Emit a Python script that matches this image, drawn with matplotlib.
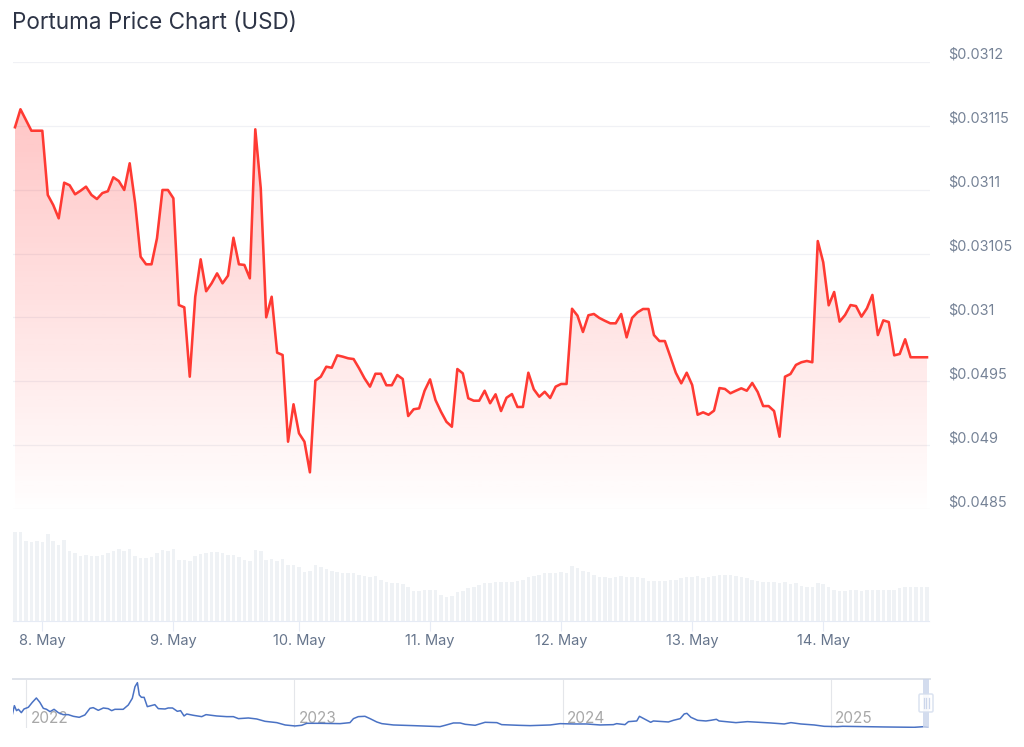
import matplotlib
matplotlib.use("Agg")
import matplotlib.pyplot as plt
import numpy as np
from matplotlib.patches import FancyBboxPatch, Rectangle

plt.rcParams['font.family'] = ['Inter', 'DejaVu Sans']

# hourly price, in units of 1e-5 USD
price = [3114.89, 3116.30, 3115.46, 3114.62, 3114.62, 3114.62, 3109.59, 3108.80, 3107.76, 3110.55,
         3110.35, 3109.64, 3109.92, 3110.24, 3109.59, 3109.27, 3109.74, 3109.88, 3110.97, 3110.68,
         3109.98, 3112.07, 3108.94, 3104.75, 3104.16, 3104.16, 3106.20, 3109.98, 3109.98, 3109.33,
         3100.97, 3100.79, 3095.36, 3101.62, 3104.55, 3102.05, 3102.67, 3103.45, 3102.67, 3103.27,
         3106.24, 3104.16, 3104.11, 3103.06, 3114.73, 3110.11, 3100.01, 3101.62, 3097.24, 3097.06,
         3090.27, 3093.20, 3090.93, 3090.27, 3087.87, 3095.05, 3095.36, 3096.14, 3096.06, 3097.03,
         3096.93, 3096.80, 3096.74, 3096.02, 3095.23, 3094.58, 3095.59, 3095.59, 3094.69, 3094.69,
         3095.49, 3095.18, 3092.28, 3092.81, 3092.88, 3094.26, 3095.15, 3093.53, 3092.62, 3091.83,
         3091.44, 3095.96, 3095.62, 3093.67, 3093.48, 3093.48, 3094.26, 3093.28, 3093.98, 3092.67,
         3093.71, 3094.00, 3092.99, 3092.99, 3095.67, 3094.37, 3093.79, 3094.18, 3093.69, 3094.58,
         3094.79, 3094.79, 3100.68, 3100.14, 3098.86, 3100.17, 3100.27, 3099.96, 3099.74, 3099.54,
         3099.54, 3100.27, 3098.44, 3099.96, 3100.40, 3100.66, 3100.66, 3098.62, 3098.15, 3098.15,
         3096.93, 3095.67, 3094.84, 3095.67, 3094.71, 3092.38, 3092.57, 3092.38, 3092.70, 3094.47,
         3094.40, 3094.06, 3094.26, 3094.45, 3094.26, 3094.87, 3094.16, 3093.06, 3093.06, 3092.67,
         3090.66, 3095.36, 3095.57, 3096.28, 3096.49, 3096.59, 3096.49, 3105.98, 3104.32, 3100.95,
         3101.99, 3099.67, 3100.19, 3100.97, 3100.89, 3100.06, 3100.71, 3101.76, 3098.62, 3099.77,
         3099.64, 3097.03, 3097.14, 3098.29, 3096.88, 3096.88, 3096.88, 3096.88]

# volume, arbitrary units
volume = [265, 265, 240, 235, 239, 235, 260, 240, 228, 243, 208, 202, 195, 198, 195, 195, 198, 202, 208, 216,
          210, 216, 195, 187, 187, 190, 202, 213, 209, 216, 183, 183, 180, 195, 201, 202, 205, 205, 202, 198,
          198, 190, 183, 180, 213, 209, 183, 186, 180, 186, 168, 168, 160, 146, 150, 168, 160, 156, 150, 146,
          142, 142, 142, 138, 135, 131, 135, 123, 116, 112, 112, 109, 101, 90, 90, 93, 93, 93, 78, 71,
          75, 86, 90, 97, 101, 108, 112, 112, 116, 116, 116, 116, 120, 123, 131, 135, 138, 142, 142, 142,
          146, 142, 164, 157, 150, 146, 138, 131, 131, 127, 131, 135, 131, 131, 131, 127, 120, 120, 120, 120,
          123, 123, 127, 131, 131, 135, 127, 131, 135, 138, 138, 138, 135, 131, 127, 123, 120, 116, 116, 116,
          112, 116, 109, 112, 105, 101, 101, 112, 109, 101, 93, 90, 90, 93, 93, 90, 93, 93, 93, 93,
          93, 93, 97, 101, 101, 101, 101, 101]

tick_hours = [5, 29, 52, 76, 100, 124, 148]
tick_days = ['8. May', '9. May', '10. May', '11. May', '12. May', '13. May', '14. May']

y_ticks = [3120, 3115, 3110, 3105, 3100, 3095, 3090, 3085]
y_labels = ['$0.0312', '$0.03115', '$0.0311', '$0.03105', '$0.031', '$0.0495', '$0.049', '$0.0485']

# long range navigator
nav_years = [2021.948, 2021.955, 2021.963, 2021.970, 2021.981, 2021.991, 2022.007, 2022.022, 2022.037, 2022.050,
             2022.063, 2022.075, 2022.088, 2022.103, 2022.119, 2022.137, 2022.156, 2022.175, 2022.197, 2022.218,
             2022.237, 2022.249, 2022.268, 2022.287, 2022.305, 2022.318, 2022.330, 2022.361, 2022.380, 2022.395,
             2022.405, 2022.414, 2022.421, 2022.429, 2022.439, 2022.451, 2022.479, 2022.492, 2022.517, 2022.529,
             2022.545, 2022.563, 2022.575, 2022.588, 2022.598, 2022.623, 2022.654, 2022.670, 2022.710, 2022.747,
             2022.772, 2022.791, 2022.828, 2022.859, 2022.890, 2022.934, 2022.965, 2023.002, 2023.027, 2023.046,
             2023.095, 2023.170, 2023.207, 2023.220, 2023.238, 2023.263, 2023.282, 2023.307, 2023.326, 2023.369,
             2023.444, 2023.543, 2023.562, 2023.593, 2023.618, 2023.637, 2023.674, 2023.711, 2023.755, 2023.773,
             2023.836, 2023.879, 2023.954, 2023.991, 2024.041, 2024.090, 2024.140, 2024.190, 2024.202, 2024.233,
             2024.246, 2024.277, 2024.287, 2024.308, 2024.329, 2024.339, 2024.395, 2024.414, 2024.439, 2024.454,
             2024.464, 2024.479, 2024.504, 2024.535, 2024.553, 2024.574, 2024.584, 2024.647, 2024.690, 2024.777,
             2024.827, 2024.852, 2024.889, 2024.939, 2024.976, 2025.026, 2025.045, 2025.201, 2025.312, 2025.350,
             2025.362]
nav_price = [43, 68, 53, 57, 47, 58, 63, 78, 91, 78, 60, 57, 50, 57, 47, 41, 41, 36, 33, 40,
             60, 62, 54, 61, 59, 53, 57, 57, 70, 90, 125, 137, 100, 93, 93, 65, 71, 59, 58, 61,
             61, 51, 53, 37, 43, 39, 35, 41, 37, 35, 35, 29, 31, 28, 21, 17, 10, 7, 9, 15,
             15, 14, 17, 29, 35, 36, 29, 19, 14, 10, 8, 5, 9, 16, 16, 12, 9, 18, 17, 11,
             9, 8, 10, 14, 13, 13, 10, 11, 14, 11, 20, 22, 36, 27, 18, 22, 19, 24, 29, 43,
             45, 33, 24, 22, 24, 27, 22, 17, 20, 16, 13, 17, 13, 10, 6, 5, 6, 4, 3, 5,
             3]
nav_ticks = [2022, 2023, 2024, 2025]


def px_axes(fig, left, top, right, bottom):
    # position an axes using pixel edges measured from the top left
    w, h = fig.get_size_inches() * fig.dpi
    return fig.add_axes([left / w, 1 - bottom / h, (right - left) / w, (bottom - top) / h])


fig = plt.figure(figsize=(10.24, 7.47), dpi=100)
x = np.arange(len(price))
xlim = (-0.46, len(price) - 1 + 0.46)

# price panel
ax = px_axes(fig, 12.5, 62, 929.5, 509)
ax.set_axisbelow(True)
ax.grid(axis='y', color='#f0f1f5', lw=0.9, zorder=0)
ax.set_xlim(xlim)
ax.set_ylim(y_ticks[-1], y_ticks[0])
rgba = np.zeros((256, 1, 4))
rgba[..., 0] = 1.0
rgba[..., 1] = 0.2
rgba[..., 2] = 0.2
rgba[..., 3] = np.linspace(0.28, 0.005, 256)[:, None]
grad = ax.imshow(rgba, extent=(xlim[0], xlim[1], y_ticks[-1], max(price)), aspect='auto', origin='upper', zorder=1)
poly = ax.fill_between(x, price, y_ticks[-1], color='none')
grad.set_clip_path(poly.get_paths()[0], transform=ax.transData)
ax.set_xlim(xlim)
ax.set_ylim(y_ticks[-1], y_ticks[0])
ax.plot(x, price, color='#ff3a33', lw=1.85, solid_joinstyle='round', zorder=3)
ax.set_yticks(y_ticks)
ax.set_yticklabels(y_labels, va='bottom', color='#758296', fontsize=10.4)
ax.yaxis.tick_right()
ax.tick_params(axis='y', length=0, pad=13.2)
ax.set_xticks([])
ax.patch.set_alpha(0)
for s in ax.spines.values():
    s.set_visible(False)

# volume panel
vol = px_axes(fig, 12.5, 520.5, 929.5, 620.5)
vol.bar(x, volume, width=0.65, color='#eff2f5')
vol.set_xlim(xlim)
vol.set_ylim(0, 300)
vol.set_yticks([])
vol.set_xticks(tick_hours)
vol.set_xticklabels(tick_days, color='#66758c', fontsize=10.5)
vol.tick_params(axis='x', length=7.5, width=0.8, color='#e6ebf5', pad=2)
for name, s in vol.spines.items():
    s.set_visible(name == 'bottom')
vol.spines['bottom'].set_color('#e6ebf5')
vol.spines['bottom'].set_linewidth(0.8)

# navigator
nav = px_axes(fig, 12.5, 679, 930, 728.3)
nav.plot(nav_years, nav_price, color='#4a72c4', lw=1.1, zorder=3)
nav.set_xlim(2021.948, 2025.371)
nav.set_ylim(0, 148)
nav.set_yticks([])
nav.set_xticks([])
for yr in nav_ticks:
    nav.axvline(yr, color='#e4e6ea', lw=0.8, zorder=1)
    nav.annotate(str(yr), (yr, 0), xytext=(3.4, 2), textcoords='offset points', color='#a8a8a8',
                 fontsize=11, va='bottom', ha='left', zorder=2)
for name, s in nav.spines.items():
    s.set_visible(name == 'top')
nav.spines['top'].set_color('#dfe3ea')
nav.spines['top'].set_linewidth(1.4)

# overlay for title and the navigator handle
over = fig.add_axes([0, 0, 1, 1])
over.set_xlim(0, 1024)
over.set_ylim(747, 0)
over.axis('off')
over.patch.set_alpha(0)
over.text(12.5, 23.5, 'Portuma Price Chart (USD)', color='#2d3446', fontsize=16.2, va='center', ha='left')
over.add_patch(Rectangle((923.3, 679), 5.8, 49.3, color='#ccd6eb', alpha=0.85, lw=0))
over.add_patch(FancyBboxPatch((919, 694), 14, 18, boxstyle='round,pad=0,rounding_size=1.5',
                              fc='#ffffff', ec='#d5deee', lw=1.1, alpha=0.85))
for hx in [923.5, 926, 928.5]:
    over.plot([hx, hx], [698, 708], color='#ccd6eb', lw=0.9)

fig.savefig('out.png', dpi=100)
